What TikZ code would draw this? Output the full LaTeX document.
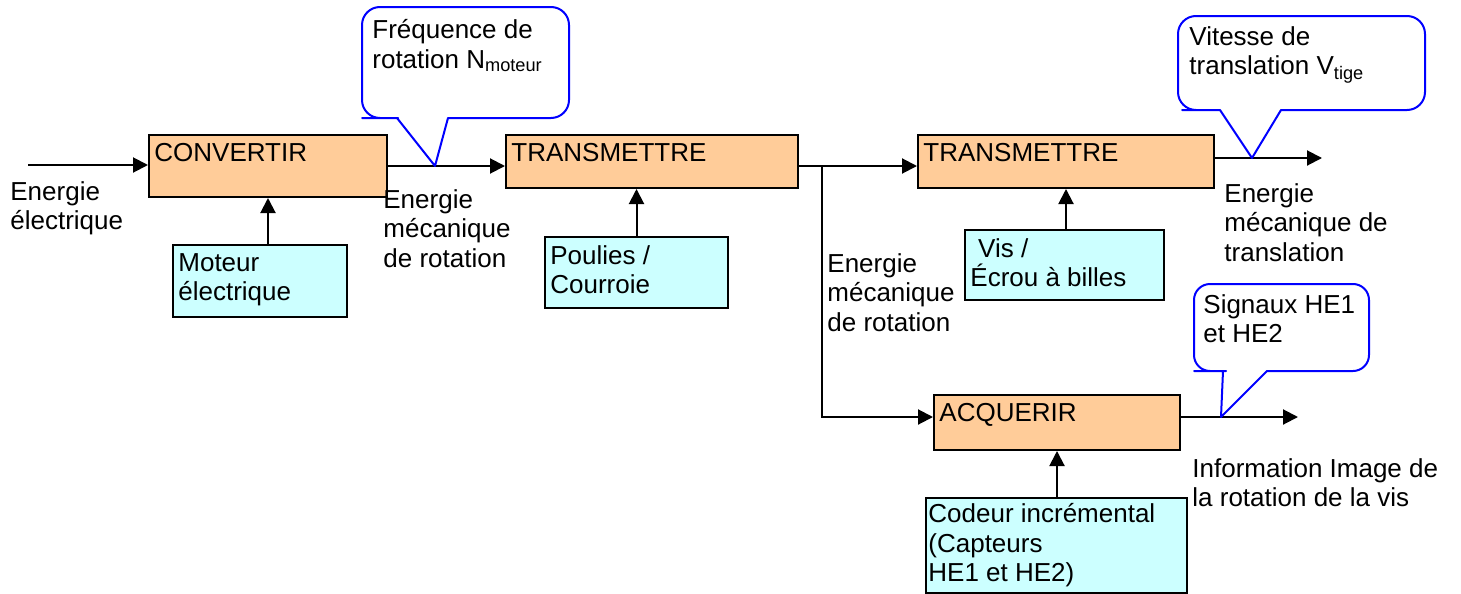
\documentclass[tikz,border=0pt]{standalone}
\usepackage{fontspec}
\setmainfont{Liberation Sans}
\usepackage{xcolor}
\usetikzlibrary{arrows.meta}

\definecolor{fnorange}{HTML}{FFCC99}
\definecolor{solcyan}{HTML}{CCFFFF}
\definecolor{bubblue}{HTML}{0000FF}

\tikzset{
  fn/.style={draw, fill=fnorange, line width=1pt, anchor=north west, inner sep=0pt},
  sol/.style={draw, fill=solcyan, line width=1pt, anchor=north west, inner sep=0pt},
  txt/.style={anchor=north west, inner sep=0pt, align=left},
  inside/.style={label={[txt, xshift=3pt, yshift=-4.5pt]north west:{#1}}},
  flow/.style={-{Triangle[length=7.5pt,width=7.5pt]}, line width=1pt},
  bubble/.style={draw=bubblue, line width=1pt, line join=round},
}

\begin{document}
\begin{tikzpicture}[x=0.5pt, y=-0.5pt, every node/.style={font=\fontsize{13}{14.8}\selectfont}]
    \useasboundingbox (0,0) rectangle (1461,594);

    \node[fn, minimum width=119pt, minimum height=31pt, inside=CONVERTIR] (conv) at (148,134) {};
    \node[sol, minimum width=87pt, minimum height=36pt, inside={Moteur\\électrique}] (mot) at (172,244) {};
    \node[fn, minimum width=146pt, minimum height=26.5pt, inside=TRANSMETTRE] (trans1) at (505,134) {};
    \node[sol, minimum width=91.5pt, minimum height=35.5pt, inside={Poulies /\\Courroie}] (poul) at (544,236) {};
    \node[fn, minimum width=148pt, minimum height=26.5pt, inside=TRANSMETTRE] (trans2) at (917,134) {};
    \node[sol, minimum width=99.5pt, minimum height=35pt, inside={\hspace*{0.3em}Vis /\\Écrou à billes}] (vis) at (964,229) {};
    \node[fn, minimum width=123pt, minimum height=27.5pt, inside=ACQUERIR] (acq) at (933,394) {};
    \node[sol, minimum width=130.5pt, minimum height=47.5pt,
          label={[txt, xshift=1.5pt, yshift=-3pt]north west:{Codeur incrémental\\(Capteurs\\HE1 et HE2)}}] (cod) at (925,497) {};

    \coordinate (in) at (28,165);
    \coordinate (br) at (822,166);
    \coordinate (out2) at (1322,158);
    \coordinate (out3) at (1298,417);
    \coordinate (tip-freq) at (435,166);
    \coordinate (tip-vit) at (1252,158);
    \coordinate (tip-sig) at (1221,417);

    \draw[flow] (in) -- (in -| conv.west);
    \draw[flow] (conv.east |- br) -- (trans1.west |- br);
    \draw[flow] (trans1.east |- br) -- (trans2.west |- br);
    \draw[flow] (br) |- (acq.west |- out3);
    \draw[flow] (trans2.east |- out2) -- (out2);
    \draw[flow] (acq.east |- out3) -- (out3);
    \draw[flow] (mot.north -| conv.south) -- (conv.south);
    \draw[flow] (poul.north) -- (poul.north |- trans1.south);
    \draw[flow] (vis.north -| trans2.south) -- (trans2.south);
    \draw[flow] (cod.north -| acq.south) -- (acq.south);

    \node[txt] (lbl-in) at (10,181) {Energie\\électrique};
    \node[txt] (lbl-rot1) at (383,189) {Energie\\mécanique\\de rotation};
    \node[txt] (lbl-rot2) at (827,253) {Energie\\mécanique\\de rotation};
    \node[txt] (lbl-trans) at (1224,183) {Energie\\mécanique de\\translation};
    \node[txt] (lbl-info) at (1192,458) {Information Image de\\la rotation de la vis};

    \draw[bubble] (397,118) -- (tip-freq) -- (448,118) -- (500,118) [rounded corners=9pt] -- (569,118) -- (569,7) -- (362,7) -- (362,118) -- (380,118) [sharp corners] -- cycle;
    \node[txt] (c-freq) at (372,19) {Fréquence de\\rotation N\textsubscript{moteur}};

    \draw[bubble] (1220,110) -- (tip-vit) -- (1281,110) -- (1340,110) [rounded corners=9pt] -- (1425,110) -- (1425,16) -- (1178,16) -- (1178,110) -- (1200,110) [sharp corners] -- cycle;
    \node[txt] (c-vit) at (1189,26) {Vitesse de\\translation V\textsubscript{tige}};

    \draw[bubble] (1223,371) -- (tip-sig) -- (1267,371) -- (1320,371) [rounded corners=8pt] -- (1369,371) -- (1369,284) -- (1194,284) -- (1194,371) -- (1210,371) [sharp corners] -- cycle;
    \node[txt] (c-sig) at (1203,294) {Signaux HE1\\et HE2};
\end{tikzpicture}
\end{document}
